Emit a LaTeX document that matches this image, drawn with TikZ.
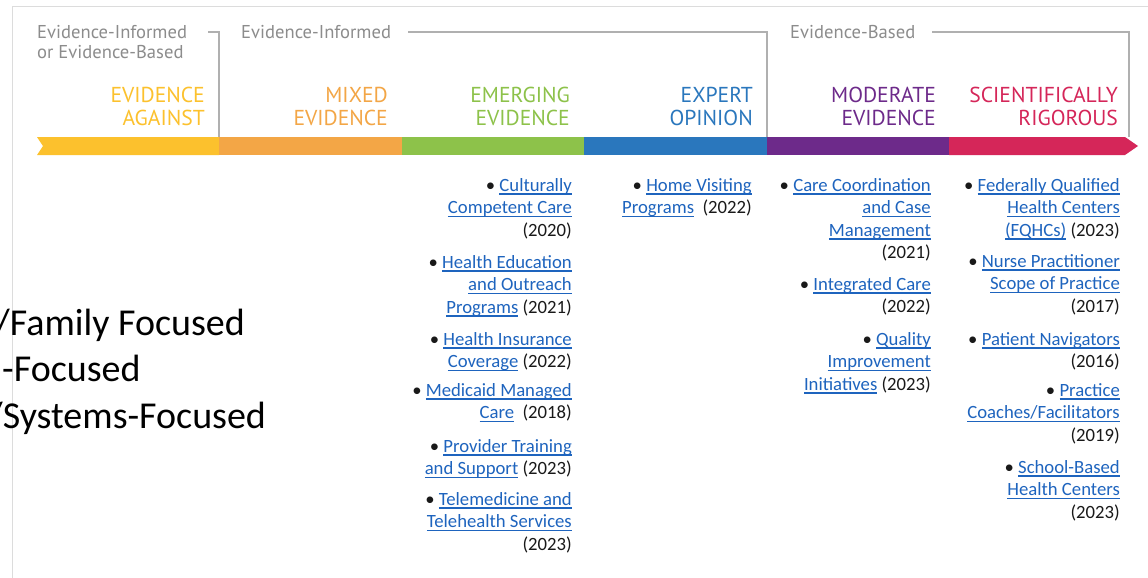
\documentclass[tikz,border=0pt]{standalone}
\usepackage{fontspec}
\newfontfamily\hdrfont{PT Sans}
\newfontfamily\itemfont{Carlito}
\definecolor{cY}{HTML}{FCC12D}
\definecolor{cO}{HTML}{F3A646}
\definecolor{cG}{HTML}{8DC24A}
\definecolor{cB}{HTML}{2A77BD}
\definecolor{cP}{HTML}{6D2A8A}
\definecolor{cR}{HTML}{D52659}
\definecolor{linkc}{HTML}{1E64BE}
\definecolor{graytxt}{HTML}{8C8C8C}
\definecolor{grayln}{HTML}{B0B0B0}
\definecolor{bordc}{HTML}{DCDCDC}
\newcommand\lnk[1]{{\color{linkc}\setbox0=\hbox{#1}\rlap{\rule[-3.5pt]{\wd0}{1.7pt}}\box0}}
\newcommand\fst{\rule{0pt}{16pt}}
\newcommand\hst{\rule{0pt}{17pt}}
\newcommand\gst{\rule{0pt}{14pt}}
\begin{document}
\begin{tikzpicture}[x=1pt,y=-1pt,
  hdr/.style={font=\hdrfont\fontsize{21.6}{23}\selectfont, align=right, anchor=north east, inner sep=0pt},
  glab/.style={font=\hdrfont\fontsize{18.6}{20.5}\selectfont, text=graytxt, align=left, anchor=north west, inner sep=0pt},
  item/.style={font=\itemfont\fontsize{18.7}{22.5}\selectfont, text=black!90, align=right, anchor=north east, inner sep=0pt},
  side/.style={font=\itemfont\fontsize{38}{46}\selectfont, text=black, anchor=base west, inner sep=0pt},
  brk/.style={draw=grayln, line width=1.5pt},
  border/.style={draw=bordc, line width=1pt}]
\useasboundingbox (0,0) rectangle (1148,578);
\fill[white] (0,0) rectangle (1148,578);
% frame
\draw[border] (12,578) -- (12,7) -- (1148,7);
% side texts (cut at the left edge, as in the reference)
\node[side] (s1) at (-5,335) {/Family Focused};
\node[side] (s2) at (2,381) {-Focused};
\node[side] (s3) at (-12,428) {/Systems-Focused};
% gray group labels
\node[glab] (g1) at (37,24) {\gst Evidence-Informed\\or Evidence-Based};
\node[glab] (g2) at (241,24) {\gst Evidence-Informed};
\node[glab] (g3) at (790,24) {\gst Evidence-Based};
\coordinate (b1) at (219,137);
\coordinate (b2) at (767,137);
\coordinate (b3) at (1129,137);
\draw[brk] (208,32) -- (219,32) -- (b1);
\draw[brk] (408,32) -- (767,32) -- (b2);
\draw[brk] (932,32) -- (1129,32) -- (b3);
% bar
\fill[cY] (37,137) -- (219,137) -- (219,155) -- (37,155) -- (43,146) -- cycle;
\fill[cO] (219,137) rectangle (402,155);
\fill[cG] (402,137) rectangle (584,155);
\fill[cB] (584,137) rectangle (767,155);
\fill[cP] (767,137) rectangle (949,155);
\fill[cR] (949,137) -- (1125,137) -- (1138,146) -- (1125,155) -- (949,155) -- cycle;
% headers
\node[hdr, text=cY] (h1) at (205,85) {\hst EVIDENCE\\AGAINST};
\node[hdr, text=cO] (h2) at (388,85) {\hst MIXED\\EVIDENCE};
\node[hdr, text=cG] (h3) at (570,85) {\hst EMERGING\\EVIDENCE};
\node[hdr, text=cB] (h4) at (753,85) {\hst EXPERT\\OPINION};
\node[hdr, text=cP] (h5) at (936,85) {\hst MODERATE\\EVIDENCE};
\node[hdr, text=cR] (h6) at (1118,85) {\hst SCIENTIFICALLY\\RIGOROUS};
% emerging evidence items
\node[item] (c1) at (572,175) {\fst• \lnk{Culturally}\\\lnk{Competent Care}\\(2020)};
\node[item] (c2) at (572,252) {\fst• \lnk{Health Education}\\\lnk{and Outreach}\\\lnk{Programs} (2021)};
\node[item] (c3) at (572,329) {\fst• \lnk{Health Insurance}\\\lnk{Coverage} (2022)};
\node[item] (c4) at (572,380) {\fst• \lnk{Medicaid Managed}\\\lnk{Care}\ \ (2018)};
\node[item] (c5) at (572,436) {\fst• \lnk{Provider Training}\\\lnk{and Support} (2023)};
\node[item] (c6) at (572,489) {\fst• \lnk{Telemedicine and}\\\lnk{Telehealth Services}\\(2023)};
% expert opinion
\node[item] (d1) at (752,175) {\fst• \lnk{Home Visiting}\\\lnk{Programs}\ \ (2022)};
% moderate evidence
\node[item] (e1) at (931,175) {\fst• \lnk{Care Coordination}\\\lnk{and Case}\\\lnk{Management}\\(2021)};
\node[item] (e2) at (931,274) {\fst• \lnk{Integrated Care}\\(2022)};
\node[item] (e3) at (931,329) {\fst• \lnk{Quality}\\\lnk{Improvement}\\\lnk{Initiatives} (2023)};
% scientifically rigorous
\node[item] (f1) at (1120,175) {\fst• \lnk{Federally Qualified}\\\lnk{Health Centers}\\\lnk{(FQHCs)} (2023)};
\node[item] (f2) at (1120,251) {\fst• \lnk{Nurse Practitioner}\\\lnk{Scope of Practice}\\(2017)};
\node[item] (f3) at (1120,329) {\fst• \lnk{Patient Navigators}\\(2016)};
\node[item] (f4) at (1120,380) {\fst• \lnk{Practice}\\\lnk{Coaches/Facilitators}\\(2019)};
\node[item] (f5) at (1120,457) {\fst• \lnk{School-Based}\\\lnk{Health Centers}\\(2023)};
\end{tikzpicture}
\end{document}
